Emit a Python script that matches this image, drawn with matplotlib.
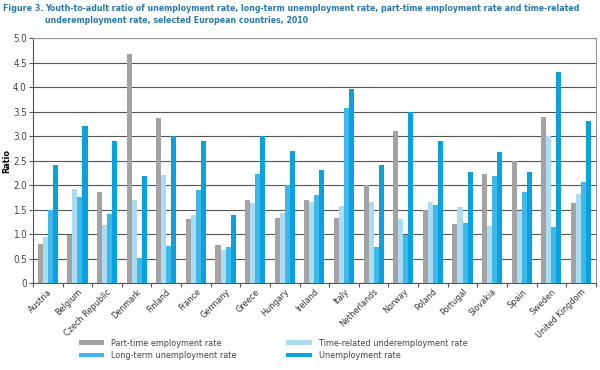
import matplotlib
matplotlib.use("Agg")
import matplotlib.pyplot as plt
import numpy as np

plt.rcParams['font.family'] = ['DejaVu Sans']
plt.rcParams['font.stretch'] = 'condensed'

countries = ["Austria", "Belgium", "Czech Republic", "Denmark", "Finland", "France",
             "Germany", "Greece", "Hungary", "Ireland", "Italy", "Netherlands",
             "Norway", "Poland", "Portugal", "Slovakia", "Spain", "Sweden",
             "United Kingdom"]
part_time = [0.80, 0.98, 1.85, 4.67, 3.36, 1.30, 0.77, 1.70, 1.33, 1.70, 1.32, 2.00,
             3.10, 1.50, 1.20, 2.23, 2.50, 3.38, 1.63]
time_related = [0.93, 1.92, 1.18, 1.70, 2.20, 1.38, 0.68, 1.63, 1.43, 1.65, 1.57, 1.65,
                1.30, 1.65, 1.55, 1.17, 1.47, 3.00, 1.82]
long_term = [1.50, 1.75, 1.40, 0.52, 0.75, 1.90, 0.73, 2.23, 2.00, 1.80, 3.58, 0.73,
             0.98, 1.60, 1.23, 2.18, 1.85, 1.15, 2.07]
unemployment = [2.40, 3.20, 2.90, 2.18, 3.00, 2.90, 1.38, 3.00, 2.70, 2.30, 3.97, 2.40,
                3.50, 2.90, 2.27, 2.68, 2.27, 4.30, 3.30]

series = [part_time, time_related, long_term, unemployment]
names = ["Part-time employment rate", "Time-related underemployment rate",
         "Long-term unemployment rate", "Unemployment rate"]
colors = ["#a3a3a6", "#abdcf2", "#3db8e8", "#0aa2de"]

fig = plt.figure(figsize=(6, 3.7), dpi=100)
ax = fig.add_axes([0.055, 0.235, 0.938, 0.662])

x = np.arange(len(countries))
w = 0.17
handles = []
for i, (vals, c) in enumerate(zip(series, colors)):
    h = ax.bar(x + (i - 1.5) * w, vals, w, color=c, zorder=3)
    handles.append(h)

ax.set_xlim(-0.5, len(countries) - 0.5)
ax.set_ylim(0, 5)
ax.set_yticks(np.arange(0, 5.01, 0.5))
ax.set_yticklabels(["0"] + ["%.1f" % v for v in np.arange(0.5, 5.01, 0.5)])
ax.yaxis.grid(True, color="#555555", lw=0.8, zorder=0)
ax.set_xticks(np.arange(-0.5, len(countries), 1.0))
ax.set_xticklabels([])
ax.set_xticks(x, minor=True)
ax.set_xticklabels(countries, minor=True, rotation=45, ha="right",
                   rotation_mode="anchor", fontsize=6.5, color="#333333")
ax.tick_params(axis="x", which="minor", length=0, pad=3)
ax.tick_params(axis="x", which="major", length=3, color="#555555", direction="out")
ax.tick_params(axis="y", length=3, pad=1.5, color="#555555", labelsize=7, labelcolor="#444444")
for s in ax.spines.values():
    s.set_color("#999999")
    s.set_linewidth(0.8)
ax.spines["left"].set_color("#555555")
ax.spines["bottom"].set_color("#555555")
ax.set_ylabel("Ratio", fontsize=6.5, fontweight="bold", labelpad=1)

title_color = "#2a78b0"
fig.text(0.005, 0.988, "Figure 3.", fontsize=6.4, fontweight="bold", color=title_color, va="top")
fig.text(0.075, 0.988, "Youth-to-adult ratio of unemployment rate, long-term unemployment rate, "
         "part-time employment rate and time-related\nunderemployment rate, selected European countries, 2010",
         fontsize=6.3, fontweight="bold", color=title_color, va="top", linespacing=1.4)

order = [0, 2, 1, 3]
fig.legend([handles[i] for i in order], [names[i] for i in order],
           loc="lower center", bbox_to_anchor=(0.455, 0.005), ncol=2,
           frameon=False, fontsize=6.5, handlelength=2.8, handleheight=0.4,
           columnspacing=5.5, labelspacing=0.35, labelcolor="#444444")

fig.savefig("out.png", dpi=100)
